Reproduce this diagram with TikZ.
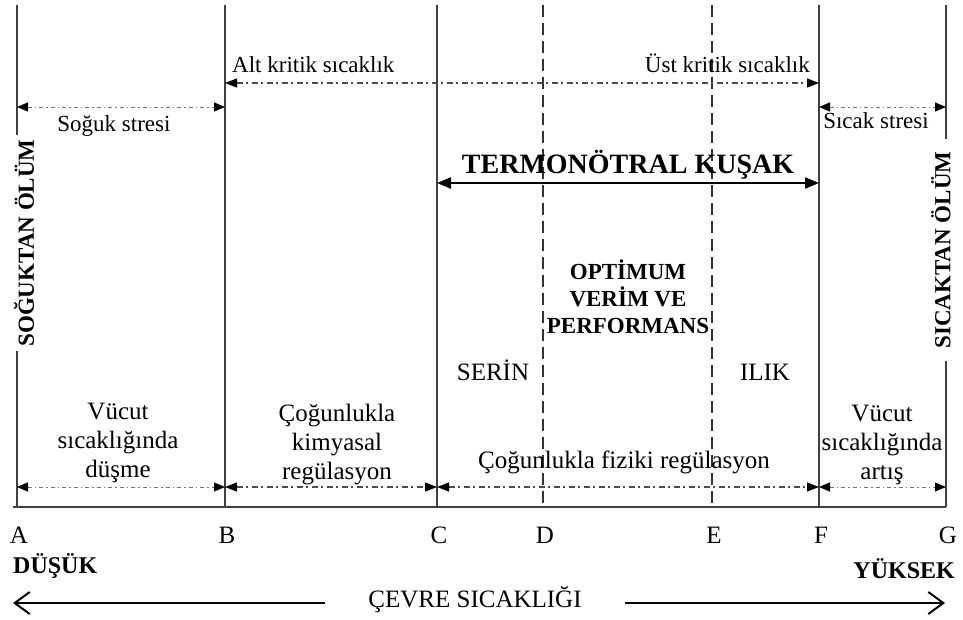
\documentclass[tikz,border=0pt]{standalone}
\usepackage{fontspec}
\setmainfont{Liberation Serif}
\usetikzlibrary{arrows.meta}
\tikzset{
  bound/.style={black!75, line width=1.8pt},
  optline/.style={black!80, line width=1.4pt, dash pattern=on 12pt off 6pt},
  critarrow/.style={black!70, line width=1.1pt, dash pattern=on 6pt off 3.5pt on 2pt off 3.5pt,
    {Triangle[length=12pt,width=9pt,black]}-{Triangle[length=12pt,width=9pt,black]}},
  stressarrow/.style={black!55, line width=1pt, dash pattern=on 4pt off 3pt on 1.5pt off 3pt,
    {Triangle[length=11pt,width=9pt,black]}-{Triangle[length=11pt,width=9pt,black]}},
  zonearrow/.style={black, line width=2pt, {Triangle[length=14pt,width=11pt]}-{Triangle[length=14pt,width=11pt]}},
  envarrow/.style={black, line width=2pt, -{Straight Barb[length=15pt,width=22pt]}},
  lbl/.style={inner sep=0pt, font=\fontsize{23}{27}\selectfont},
  blk/.style={inner sep=0pt, align=center, font=\fontsize{25}{29}\selectfont},
  strong/.style={inner sep=0pt, font=\bfseries\fontsize{23}{27}\selectfont},
  bigbold/.style={inner sep=0pt, font=\bfseries\fontsize{28}{32}\selectfont}
}
\begin{document}
\begin{tikzpicture}[x=1pt, y=-1pt]
    \useasboundingbox (0,0) rectangle (963,619);
    % Temperature zones A..G
    \foreach \n/\x in {A/17,B/225,C/437,D/543,E/712,F/819,G/946} {
        \coordinate (top\n) at (\x,5);
        \coordinate (bot\n) at (\x,507);
        \coordinate (hi\n) at (\x,83);
        \coordinate (st\n) at (\x,107);
        \coordinate (tn\n) at (\x,183);
        \coordinate (lo\n) at (\x,487);
        \node[blk, anchor=base] (l\n) at (\x+2,543) {\n};
    }
    \node[strong, rotate=90, inner xsep=4pt] (colddeath) at (24,243) {SOĞUKTAN ÖLÜM};
    \node[strong, rotate=90, inner xsep=12pt] (hotdeath) at (941,250) {SICAKTAN ÖLÜM};
    \draw[bound] (topA) -- (topA |- colddeath.east) (topA |- colddeath.west) -- (botA);
    \draw[bound] (topG) -- (topG |- hotdeath.east) (topG |- hotdeath.west) -- (botG);
    \draw[bound] (topB) -- (botB);
    \draw[bound] (topC) -- (botC);
    \draw[bound] (topF) -- (botF);
    \draw[optline] (topD) -- (botD);
    \draw[optline] (topE) -- (botE);
    \coordinate (axisstart) at (13,507);
    \draw[bound] (axisstart) -- (botG);

    % critical temperatures and stress
    \node[lbl, anchor=base west] (altk) at (232,72) {Alt kritik sıcaklık};
    \node[lbl, anchor=base east] (ustk) at (810,72) {Üst kritik sıcaklık};
    \draw[critarrow] (hiB) -- (hiF);
    \node[lbl, anchor=base] (coldstress) at (114,131) {Soğuk stresi};
    \node[lbl, anchor=base] (hotstress) at (876,128) {Sıcak stresi};
    \draw[stressarrow] (stA) -- (stB);
    \draw[stressarrow] (stF) -- (stG);

    % thermoneutral zone
    \node[bigbold, anchor=base] (tnz) at (628,173) {TERMONÖTRAL KUŞAK};
    \draw[zonearrow] (tnC) -- (tnF);
    \node[strong, align=center] (opt) at (628,297) {OPTİMUM\\VERİM VE\\PERFORMANS};
    \node[blk, anchor=base] (cool) at (493,380) {SERİN};
    \node[blk, anchor=base] (warm) at (765,380) {ILIK};

    % regulation bands
    \node[blk] (bodydown) at (118,443) {Vücut\\sıcaklığında\\düşme};
    \node[blk] (chem) at (337,445) {Çoğunlukla\\kimyasal\\regülasyon};
    \node[blk, anchor=base] (phys) at (624,468) {Çoğunlukla fiziki regülasyon};
    \node[blk] (bodyup) at (882,445) {Vücut\\sıcaklığında\\artış};
    \draw[stressarrow] (loA) -- (loB);
    \draw[critarrow] (loB) -- (loC);
    \draw[critarrow] (loC) -- (loF);
    \draw[stressarrow] (loF) -- (loG);

    % environment temperature axis
    \node[strong, font=\bfseries\fontsize{24}{28}\selectfont, anchor=base west] (low) at (13,573) {DÜŞÜK};
    \node[strong, font=\bfseries\fontsize{24}{28}\selectfont, anchor=base east] (high) at (955,578) {YÜKSEK};
    \node[blk, anchor=base] (env) at (475,607) {ÇEVRE SICAKLIĞI};
    \coordinate (lowstart) at (325,603);
    \coordinate (lowend) at (13,603);
    \coordinate (highstart) at (625,603);
    \coordinate (highend) at (945,603);
    \draw[envarrow] (lowstart) -- (lowend);
    \draw[envarrow] (highstart) -- (highend);
\end{tikzpicture}
\end{document}
